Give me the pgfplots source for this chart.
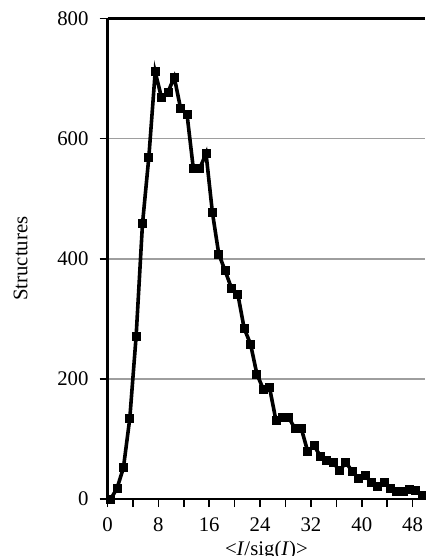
\documentclass[border=0pt]{standalone}
\usepackage{pgfplots}
\pgfplotsset{compat=1.18}
\usepackage{fontspec}
\setmainfont{Liberation Serif}

% Number of structures per <I/sig(I)> bin (bin centres)
\pgfplotstableread{
x     n
0.5   0
1.5   18
2.5   52
3.5   134
4.5   271
5.5   458
6.5   569
7.5   711
8.5   668
9.5   677
10.5  702
11.5  650
12.5  641
13.5  550
14.5  550
15.5  575
16.5  477
17.5  408
18.5  380
19.5  351
20.5  341
21.5  284
22.5  258
23.5  208
24.5  183
25.5  185
26.5  131
27.5  136
28.5  136
29.5  117
30.5  117
31.5  79
32.5  89
33.5  71
34.5  65
35.5  61
36.5  47
37.5  61
38.5  46
39.5  35
40.5  39
41.5  28
42.5  21
43.5  27
44.5  18
45.5  12
46.5  13
47.5  16
48.5  14
49.5  6
}\hist

\begin{document}
\begin{tikzpicture}
\begin{axis}[
  name=ax,
  scale only axis,
  width=159pt, height=240.5pt,
  xmin=0, xmax=50, ymin=0, ymax=800,
  axis lines=left,
  axis line style={-, line width=1.2pt, black},
  xtick={0,8,...,48},
  minor xtick={4,12,...,44},
  ytick={0,200,...,800},
  tick align=outside,
  major tick length=4pt,
  minor tick length=4pt,
  tick style={black, line width=0.8pt},
  ymajorgrids,
  major grid style={line width=0.8pt, color=black!38},
  /pgf/number format/assume math mode=true,
  tick label style={font=\fontsize{10.4}{12}\selectfont},
  label style={font=\fontsize{10.4}{12}\selectfont},
  yticklabel style={xshift=-2pt},
  xticklabel style={yshift=-2pt},
  xlabel={<\textit{I}/sig(\textit{I})>},
  ylabel={Structures},
  xlabel style={at={(axis description cs:0.5,-0.0728)}, anchor=north},
  ylabel style={at={(axis description cs:-0.2296,0.5)}, anchor=south, rotate=0},
  clip=false,
]
\draw[line width=1.2pt, black] (rel axis cs:0,1) -- (rel axis cs:1,1);
\addplot[black, line width=1.8pt, mark=square*, mark size=2pt,
  mark options={solid, line width=0.4pt}] table[x=x, y=n] {\hist};
\end{axis}
\pgfresetboundingbox
\path ([shift={(-53.8pt,-28.5pt)}]ax.south west) rectangle ([shift={(0pt,9.2pt)}]ax.north east);
\end{tikzpicture}
\end{document}
